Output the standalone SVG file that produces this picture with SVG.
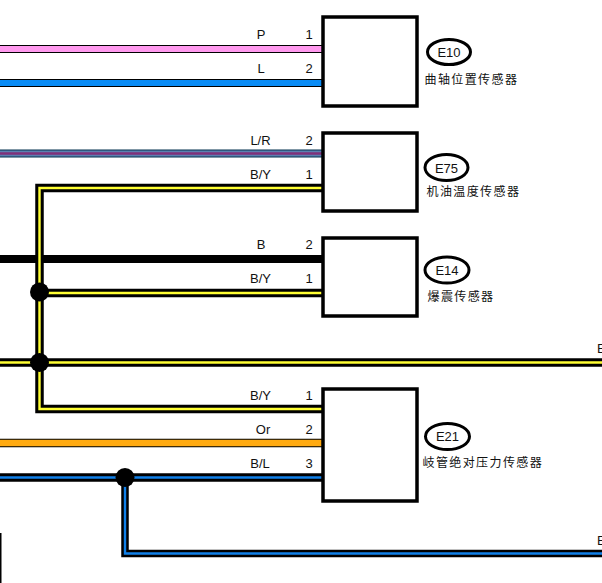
<svg xmlns="http://www.w3.org/2000/svg" width="602" height="583" viewBox="0 0 602 583">
<style>
text{font-family:"Liberation Sans","Noto Sans CJK SC",sans-serif;font-size:12px;fill:#111}
.m{text-anchor:middle}
.e{font-size:13px}
.cn{font-family:"Noto Sans CJK SC","Liberation Sans",sans-serif;letter-spacing:1.4px;font-size:12px}
.o{fill:none;stroke:#000;stroke-width:8.500}
.f{fill:none;stroke-width:2.400;stroke-linejoin:miter}
.box{fill:none;stroke:#000;stroke-width:3.500}
.tag{fill:#fff;stroke:#000;stroke-width:3}
.y{stroke:#ffff33}.b{stroke:#1080e8}
</style>
<rect width="602" height="583" fill="#fff"/>
<g id="connectors">
<path d="M0 49H323" fill="none" stroke="#000" stroke-width="8"/><path d="M0 49H323" fill="none" stroke="#ff99ee" stroke-width="6"/>
<path d="M0 83H323" fill="none" stroke="#000" stroke-width="8"/><path d="M0 83H323" fill="none" stroke="#0a8cf5" stroke-width="6"/>
<path d="M0 153.500H323" fill="none" stroke="#02304f" stroke-width="8"/><path d="M0 153.500H323" fill="none" stroke="#5a7fb0" stroke-width="6"/><path d="M0 153.500H323" fill="none" stroke="#80307a" stroke-width="2.500"/>
<path d="M0 259H323" fill="none" stroke="#000" stroke-width="8"/>
<path d="M0 443H323" fill="none" stroke="#000" stroke-width="8.500"/><path d="M0 443H323" fill="none" stroke="#ffaa11" stroke-width="6.500"/>
<path class="o" d="M323 188H39.500V409H323"/><path class="f y" d="M323 188H39.500V409H323"/>
<path class="o" d="M39.500 293H323"/><path class="f y" d="M39.500 293H323"/>
<path class="o" d="M0 362.500H602"/><path class="f y" d="M0 362.500H602"/>
<path class="o" d="M0 477.500H323"/><path class="f b" d="M0 477.500H323"/>
<path d="M125 477.500V553.500H602" fill="none" stroke="#000" stroke-width="7.500"/><path class="f b" d="M125 477.500V553.500H602"/>
<circle cx="39.500" cy="292" r="9.500"/><circle cx="39.500" cy="362.500" r="9.500"/><circle cx="125" cy="477.500" r="9.500"/>
<path d="M0.500 533V583" stroke="#000" stroke-width="2"/>
</g>
<g id="E10">
<path class="box" d="M323 17H417V106H323Z"/>
<ellipse class="tag" cx="449" cy="52" rx="21.500" ry="12.500"/><text class="m e" x="449" y="56.500">E10</text>
<text class="cn" x="424.500" y="84">曲轴位置传感器</text>
<text class="m e" x="261" y="38.500">P</text><text class="m e" x="309" y="38.500">1</text>
<text class="m e" x="261" y="72.500">L</text><text class="m e" x="309" y="72.500">2</text>
</g>
<g id="E75">
<path class="box" d="M323 133H417V211H323Z"/>
<ellipse class="tag" cx="446.500" cy="167.500" rx="21.500" ry="13"/><text class="m e" x="446.500" y="172.500">E75</text>
<text class="cn" x="426.500" y="196">机油温度传感器</text>
<text class="m e" x="260.500" y="145">L/R</text><text class="m e" x="309" y="145">2</text>
<text class="m e" x="260.500" y="179">B/Y</text><text class="m e" x="309" y="179">1</text>
</g>
<g id="E14">
<path class="box" d="M323 238H417V316H323Z"/>
<ellipse class="tag" cx="447" cy="270" rx="22" ry="13"/><text class="m e" x="447" y="274.500">E14</text>
<text class="cn" x="427.500" y="301">爆震传感器</text>
<text class="m e" x="261" y="249">B</text><text class="m e" x="309" y="249">2</text>
<text class="m e" x="260.500" y="283">B/Y</text><text class="m e" x="309" y="283">1</text>
</g>
<g id="E21">
<path class="box" d="M323 389H417V501H323Z"/>
<ellipse class="tag" cx="447.500" cy="436.500" rx="22" ry="13"/><text class="m e" x="447.500" y="441">E21</text>
<text class="cn" x="422.500" y="467">岐管绝对压力传感器</text>
<text class="m e" x="260.500" y="400">B/Y</text><text class="m e" x="309" y="400">1</text>
<text class="m e" x="263" y="434">Or</text><text class="m e" x="309" y="434">2</text>
<text class="m e" x="260" y="468">B/L</text><text class="m e" x="309" y="468">3</text>
</g>
<g id="offpage">
<text class="e" x="597" y="353">E</text>
<text class="e" x="597" y="545">E</text>
</g>
</svg>
